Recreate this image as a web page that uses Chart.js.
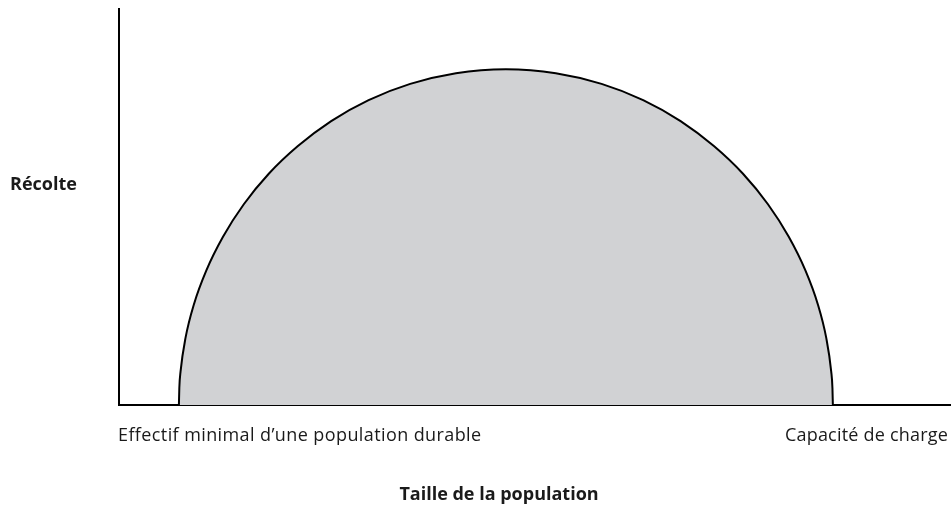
<!DOCTYPE html>
<html>
<head>
<meta charset="utf-8">
<script src="https://cdn.jsdelivr.net/npm/chart.js@4"></script>
<style>
  html, body { margin: 0; padding: 0; background: #fff; }
  #wrap { position: relative; width: 951px; height: 506px; }
  .lbl { position: absolute; font-family: "Open Sans", sans-serif; font-size: 18px; line-height: 24px; color: #1a1a1a; white-space: nowrap; }
  .b { font-weight: bold; }
</style>
</head>
<body>
<div id="wrap">
  <canvas id="c" width="951" height="506"></canvas>
  <div class="lbl b" id="ylab" style="left:10px; top:171px;">Récolte</div>
  <div class="lbl" id="xmin" style="left:118px; top:422px; letter-spacing:0.4px;">Effectif minimal d’une population durable</div>
  <div class="lbl" id="xmax" style="right:3px; top:422px; letter-spacing:0.2px;">Capacité de charge</div>
  <div class="lbl b" id="xlab" style="left:0; width:998px; text-align:center; top:481px;">Taille de la population</div>
</div>
<script>
// population size (0-100 along the axis) and harvest
const popSize = [7.2, 7.25, 7.4, 8, 9, 10.5, 12.5, 15, 18, 21.5, 25.5, 30, 35, 40.5, 46.5,
                 52.5, 58, 63, 67.5, 71.5, 75, 78, 80.5, 82.5, 84, 85, 85.6, 85.75, 85.8];
const harvest = [0, 4.3, 8.5, 17.0, 25.4, 34.0, 42.5, 50.7, 58.4, 65.4, 71.7, 77.0, 81.1, 83.8, 84.8,
                 83.8, 81.1, 77.0, 71.7, 65.4, 58.4, 50.7, 42.5, 34.0, 25.4, 17.0, 8.5, 4.3, 0];

const points = popSize.map((x, i) => ({ x, y: harvest[i] }));

new Chart(document.getElementById("c"), {
  type: "line",
  data: {
    datasets: [{
      data: points,
      borderColor: "#000",
      borderWidth: 2,
      backgroundColor: "#d1d2d4",
      fill: "origin",
      pointRadius: 0,
      cubicInterpolationMode: "monotone",
    }],
  },
  options: {
    responsive: false,
    animation: false,
    events: [],
    layout: { padding: { left: 111, top: 9, right: 0, bottom: 93 } },
    plugins: { legend: { display: false }, tooltip: { enabled: false } },
    scales: {
      x: {
        type: "linear", min: 0, max: 100,
        grid: { display: false },
        ticks: { display: false },
        border: { display: true, color: "#000", width: 2 },
      },
      y: {
        min: 0, max: 100,
        grid: { display: false },
        ticks: { display: false },
        border: { display: true, color: "#000", width: 2 },
      },
    },
  },
});
</script>
</body>
</html>
